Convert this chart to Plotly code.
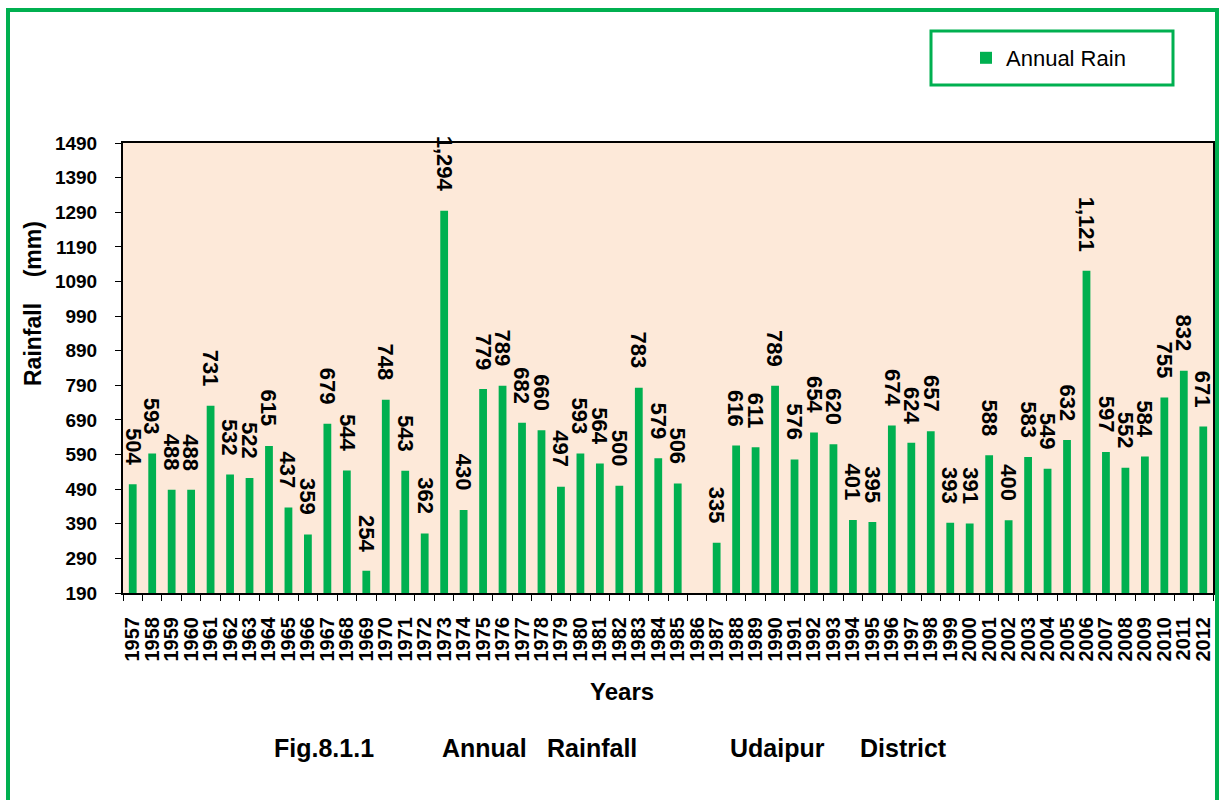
import plotly.graph_objects as go

# Annual rainfall, Udaipur district (mm); 1986 has no record
years = [
    "1957", "1958", "1959", "1960", "1961", "1962", "1963", "1964", "1965", "1966",
    "1967", "1968", "1969", "1970", "1971", "1972", "1973", "1974", "1975", "1976",
    "1977", "1978", "1979", "1980", "1981", "1982", "1983", "1984", "1985", "1986",
    "1987", "1988", "1989", "1990", "1991", "1992", "1993", "1994", "1995", "1996",
    "1997", "1998", "1999", "2000", "2001", "2002", "2003", "2004", "2005", "2006",
    "2007", "2008", "2009", "2010", "2011", "2012",
]
rain = [
    504, 593, 488, 488, 731, 532, 522, 615, 437, 359,
    679, 544, 254, 748, 543, 362, 1294, 430, 779, 789,
    682, 660, 497, 593, 564, 500, 783, 579, 506, None,
    335, 616, 611, 789, 576, 654, 620, 401, 395, 674,
    624, 657, 393, 391, 588, 400, 583, 549, 632, 1121,
    597, 552, 584, 755, 832, 671,
]
y_ticks = [190, 290, 390, 490, 590, 690, 790, 890, 990, 1090, 1190, 1290, 1390, 1490]

caption_parts = ["Fig.8.1.1", "Annual", "Rainfall", "Udaipur", "District"]
caption_left_px = [272, 440, 545, 728, 858]

FONT = "Liberation Sans, Arial, sans-serif"
GREEN = "#00B050"

W, H = 1220, 800
L, R, T, B = 123, 7, 143, 207
PW, PH = W - L - R, H - T - B


def px_x(px):
    return (px - L) / PW


def px_y(py):
    return (H - B - py) / PH


fig = go.Figure(
    go.Bar(
        x=years,
        y=rain,
        name="Annual Rain",
        marker=dict(color=GREEN, line=dict(width=0)),
        width=0.4,
    )
)

# value labels above each bar, rotated (category index as x position)
for i, v in enumerate(rain):
    if v is None:
        continue
    fig.add_annotation(
        x=i, y=v, xref="x", yref="y",
        text=f"{v:,}", showarrow=False, textangle=90,
        xanchor="center", yanchor="bottom", yshift=17,
        font=dict(family=FONT, size=22, color="black", weight="bold"),
    )

# axis titles
fig.add_annotation(
    x=px_x(33), y=px_y(304), xref="paper", yref="paper",
    text="Rainfall\u00a0\u00a0\u00a0\u00a0(mm)", showarrow=False, textangle=-90,
    xanchor="center", yanchor="middle",
    font=dict(family=FONT, size=23, color="black", weight="bold"),
)
fig.add_annotation(
    x=px_x(622), y=px_y(691), xref="paper", yref="paper",
    text="Years", showarrow=False, xanchor="center", yanchor="middle",
    font=dict(family=FONT, size=24, color="black", weight="bold"),
)

# figure caption
for part, left in zip(caption_parts, caption_left_px):
    fig.add_annotation(
        x=px_x(left), y=px_y(748), xref="paper", yref="paper",
        text=part, showarrow=False, xanchor="left", yanchor="middle",
        font=dict(family=FONT, size=25, color="black", weight="bold"),
    )

# outer frame and legend box
fig.add_shape(
    type="rect", xref="paper", yref="paper",
    x0=px_x(8), x1=px_x(1217), y0=px_y(820), y1=px_y(10),
    line=dict(color=GREEN, width=4), fillcolor="rgba(0,0,0,0)", layer="below",
)
fig.add_shape(
    type="rect", xref="paper", yref="paper",
    x0=px_x(931), x1=px_x(1173), y0=px_y(85), y1=px_y(31),
    line=dict(color=GREEN, width=3), fillcolor="white", layer="below",
)

fig.update_layout(
    width=W, height=H,
    margin=dict(l=L, r=R, t=T, b=B, autoexpand=False),
    paper_bgcolor="white",
    plot_bgcolor="#FDE9D9",
    font=dict(family=FONT, color="black"),
    showlegend=True,
    legend=dict(
        x=px_x(966), y=px_y(58), xanchor="left", yanchor="middle",
        bgcolor="rgba(0,0,0,0)", borderwidth=0,
        font=dict(family=FONT, size=22, color="black"),
    ),
    xaxis=dict(
        type="category",
        range=[-0.5, len(years) - 0.5],
        tickmode="array", tickvals=years, ticktext=years,
        showline=True, linecolor="black", linewidth=2, mirror=True,
        ticks="outside", tickson="boundaries", ticklen=6, tickcolor="black",
        tickangle=-90, ticklabelstandoff=14,
        tickfont=dict(family=FONT, size=20, color="black", weight="bold"),
        showgrid=False,
    ),
    yaxis=dict(
        range=[190, 1490],
        tickmode="array", tickvals=y_ticks, ticktext=[str(t) for t in y_ticks],
        showline=True, linecolor="black", linewidth=2, mirror=True,
        ticks="outside", ticklen=6, tickcolor="black", ticklabelstandoff=14,
        tickfont=dict(family=FONT, size=19, color="black", weight="bold"),
        showgrid=False, zeroline=False,
    ),
)

fig.write_html("out.html")
